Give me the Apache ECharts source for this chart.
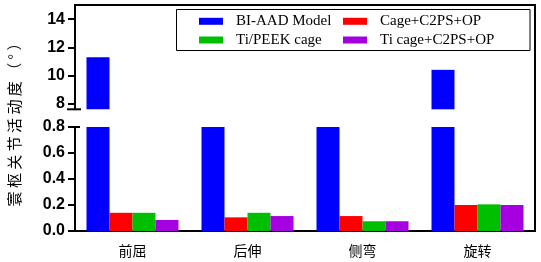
<!DOCTYPE html>
<html>
<head>
<meta charset="utf-8">
<script src="https://cdn.jsdelivr.net/npm/echarts@6/dist/echarts.min.js"></script>
<style>
  html, body { margin: 0; padding: 0; background: #fff; }
  #chart { width: 541px; height: 262px; }
</style>
</head>
<body>
<div id="chart"></div>
<script>
// 数据
const categories = ['前屈', '后伸', '侧弯', '旋转']
const seriesNames = ['BI-AAD Model', 'Cage+C2PS+OP', 'Ti/PEEK cage', 'Ti cage+C2PS+OP']
const colors = ['#0000ff', '#ff0000', '#00bf00', '#a400e0']
const biaadModel = [11.3, 4.2, 3.6, 10.4]
const cageC2psOp = [0.14, 0.105, 0.115, 0.2]
const tiPeekCage = [0.14, 0.14, 0.075, 0.205]
const tiCageC2psOp = [0.085, 0.115, 0.075, 0.2]
const upperTicks = [8, 10, 12, 14]
const seriesValues = [biaadModel, cageC2psOp, tiPeekCage, tiCageC2psOp]

const chart = echarts.init(document.getElementById('chart'))

const axisLineStyle = { color: '#000', width: 2 }
const labelFont = {
  color: '#000',
  fontFamily: 'Liberation Sans, Arial',
  fontWeight: 'bold',
  fontSize: 16
}

// 上下两个grid各画一份，超出范围的部分被裁掉
const series = []
;[0, 1].forEach((g) => {
  seriesValues.forEach((vals, i) => {
    series.push({
      type: 'bar',
      name: seriesNames[i],
      xAxisIndex: g,
      yAxisIndex: g,
      data: vals,
      clip: true,
      barGap: '0%',
      barCategoryGap: '20%',
      itemStyle: { color: colors[i] },
      emphasis: { disabled: true }
    })
  })
})

const legendCommon = {
  orient: 'vertical',
  top: 13.8,
  padding: 0,
  itemGap: 3.7,
  itemWidth: 24,
  itemHeight: 7,
  icon: 'rect',
  selectedMode: false,
  textStyle: {
    color: '#000',
    fontFamily: 'Liberation Serif, Times New Roman',
    fontSize: 15,
    padding: [0, 0, 0, 8]
  }
}

const option = {
  animation: false,
  backgroundColor: '#fff',
  grid: [
    { left: 75, right: 6, top: 5, height: 104.3 },
    { left: 75, right: 6, top: 127, height: 104 }
  ],
  legend: [
    Object.assign({ left: 199, data: [seriesNames[0], seriesNames[2]] }, legendCommon),
    Object.assign({ left: 343, data: [seriesNames[1], seriesNames[3]] }, legendCommon)
  ],
  xAxis: [
    { type: 'category', gridIndex: 0, data: categories, show: false },
    {
      type: 'category',
      gridIndex: 1,
      data: categories,
      axisLine: { lineStyle: axisLineStyle },
      axisTick: { alignWithLabel: true, length: 6, lineStyle: axisLineStyle },
      axisLabel: {
        color: '#000',
        fontFamily: 'Noto Sans CJK SC',
        fontSize: 14,
        margin: 13
      }
    }
  ],
  yAxis: [
    {
      type: 'value',
      gridIndex: 0,
      min: 7.6,
      max: 15,
      splitLine: { show: false },
      axisLine: { show: true, lineStyle: axisLineStyle },
      axisTick: { show: true, length: 7, lineStyle: axisLineStyle, customValues: upperTicks },
      axisLabel: Object.assign({ margin: 10, customValues: upperTicks }, labelFont)
    },
    {
      type: 'value',
      gridIndex: 1,
      min: 0,
      max: 0.8,
      interval: 0.2,
      splitLine: { show: false },
      axisLine: { show: true, lineStyle: axisLineStyle },
      axisTick: { show: true, length: 7, lineStyle: axisLineStyle },
      axisLabel: Object.assign({ margin: 10, formatter: (v) => v.toFixed(1) }, labelFont)
    }
  ],
  graphic: [
    // 外框（上边和右边）
    {
      type: 'polyline',
      shape: { points: [[74, 5], [535, 5], [535, 232]] },
      style: { stroke: '#000', lineWidth: 2, fill: null },
      z: 10
    },
    // 断轴标记
    { type: 'line', shape: { x1: 67, y1: 109.3, x2: 81, y2: 109.3 }, style: { stroke: '#000', lineWidth: 2 }, z: 10 },
    { type: 'line', shape: { x1: 68, y1: 127, x2: 80, y2: 127 }, style: { stroke: '#000', lineWidth: 2 }, z: 10 },
    // 图例边框
    {
      type: 'rect',
      shape: { x: 176.5, y: 9.5, width: 353.5, height: 41 },
      style: { stroke: '#000', lineWidth: 1, fill: null },
      z: 10
    },
    // y轴标题
    {
      type: 'text',
      x: 14,
      y: 121,
      rotation: Math.PI / 2,
      style: {
        text: '寰 枢 关 节 活 动 度 （ ° ）',
        fill: '#000',
        fontFamily: 'Noto Sans CJK SC',
        fontSize: 15,
        align: 'center',
        verticalAlign: 'middle'
      }
    }
  ],
  series: series
}

chart.setOption(option)
</script>
</body>
</html>
